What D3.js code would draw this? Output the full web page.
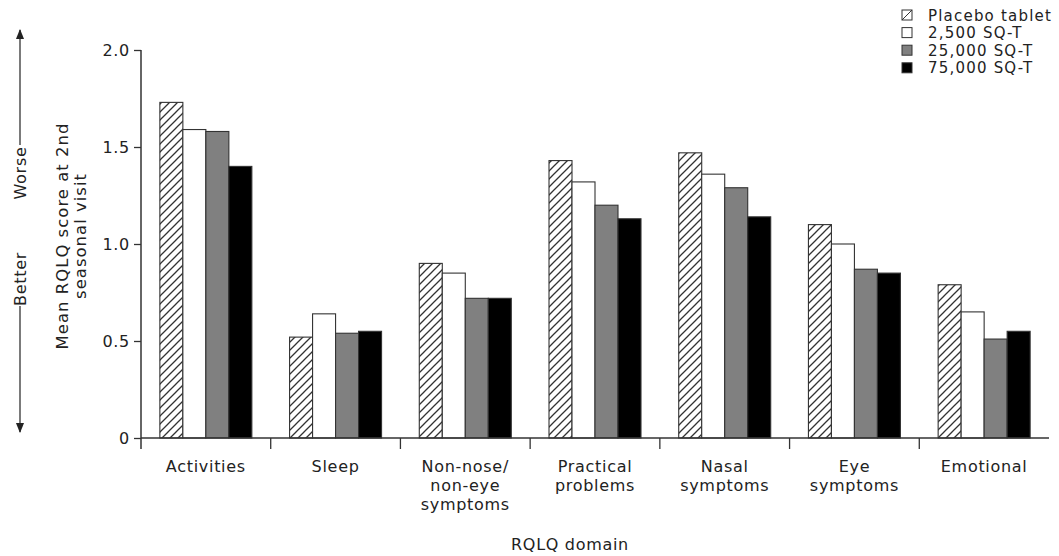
<!DOCTYPE html>
<html><head><meta charset="utf-8">
<script src="https://cdn.jsdelivr.net/npm/d3@7"></script>
<style>body{margin:0;background:#fff}svg{display:block}text{font-family:"DejaVu Sans",sans-serif;fill:#222;letter-spacing:0.7px}</style>
</head><body>
<svg id="c" width="1059" height="556"></svg>
<script>
const categories = [["Activities"],["Sleep"],["Non-nose/","non-eye","symptoms"],["Practical","problems"],["Nasal","symptoms"],["Eye","symptoms"],["Emotional"]];
const seriesNames = ["Placebo tablet","2,500 SQ-T","25,000 SQ-T","75,000 SQ-T"];
const placebo = [1.73,0.52,0.90,1.43,1.47,1.10,0.79];
const sq2500  = [1.59,0.64,0.85,1.32,1.36,1.00,0.65];
const sq25000 = [1.58,0.54,0.72,1.20,1.29,0.87,0.51];
const sq75000 = [1.40,0.55,0.72,1.13,1.14,0.85,0.55];
const yTicks = [0,0.5,1.0,1.5,2.0];
const yTickLabels = ["0","0.5","1.0","1.5","2.0"];

const series = [placebo,sq2500,sq25000,sq75000];
const fills = ["url(#hatch)","#ffffff","#808080","#000000"];
const svg = d3.select("#c");
const L=141, R=1049, T=50, B=438;
const FS = "16px";

const defs = svg.append("defs");
const pat = defs.append("pattern").attr("id","hatch").attr("patternUnits","userSpaceOnUse")
  .attr("width",8).attr("height",8);
pat.append("rect").attr("width",8).attr("height",8).attr("fill","#fff");
pat.append("path").attr("d","M-2,2 L2,-2 M0,8 L8,0 M6,10 L10,6")
  .attr("stroke","#333").attr("stroke-width",1.3);

const x0 = d3.scaleBand().domain(d3.range(categories.length)).range([L,R]).padding(0);
const x1 = d3.scaleBand().domain(d3.range(4)).range([0,x0.bandwidth()]).paddingInner(0).paddingOuter(0.82);
const y = d3.scaleLinear().domain([0,2]).range([B,T]);

// bars
const g = svg.append("g");
categories.forEach((c,i)=>{
  series.forEach((s,j)=>{
    g.append("rect").attr("x",x0(i)+x1(j)).attr("width",x1.bandwidth())
      .attr("y",y(s[i])).attr("height",B-y(s[i]))
      .attr("fill",fills[j]).attr("stroke","#333").attr("stroke-width",1.1);
  });
});

// y axis
const yAxis = d3.axisLeft(y).tickValues(yTicks).tickFormat((d,i)=>yTickLabels[i]).tickSize(7).tickPadding(4);
const ya = svg.append("g").attr("transform",`translate(${L},0)`).call(yAxis);
ya.select(".domain").remove();
ya.selectAll("line").attr("stroke","#333").attr("stroke-width",1.3);
ya.selectAll("text").style("font-size",FS).style("font-family","'DejaVu Sans',sans-serif").attr("fill","#222");
svg.append("line").attr("x1",L).attr("x2",L).attr("y1",T).attr("y2",B+11).attr("stroke","#333").attr("stroke-width",1.5);

// x axis
svg.append("line").attr("x1",L).attr("x2",R).attr("y1",B).attr("y2",B).attr("stroke","#333").attr("stroke-width",1.5);
d3.range(1,categories.length).forEach(i=>{
  svg.append("line").attr("x1",x0(i)).attr("x2",x0(i)).attr("y1",B).attr("y2",B+11).attr("stroke","#333").attr("stroke-width",1.3);
});
categories.forEach((c,i)=>{
  const t = svg.append("text").attr("text-anchor","middle").style("font-size",FS)
    .attr("x",x0(i)+x0.bandwidth()/2).attr("y",472);
  c.forEach((ln,k)=>t.append("tspan").attr("x",x0(i)+x0.bandwidth()/2).attr("dy",k?19:0).text(ln));
});
svg.append("text").attr("text-anchor","middle").style("font-size",FS).attr("x",570).attr("y",550).text("RQLQ domain");

// y title
const yt = svg.append("text").attr("text-anchor","middle").style("font-size","16.5px").style("letter-spacing","1px")
  .attr("transform","translate(68,236) rotate(-90)");
yt.append("tspan").attr("x",0).attr("y",0).text("Mean RQLQ score at 2nd");
yt.append("tspan").attr("x",0).attr("y",18).text("seasonal visit");

// worse/better arrows
const ax = 20;
defs.append("marker").attr("id","arr").attr("viewBox","0 0 10 10").attr("refX",9).attr("refY",5)
  .attr("markerWidth",8).attr("markerHeight",8).attr("orient","auto")
  .append("path").attr("d","M0,1 L10,5 L0,9 Z").attr("fill","#222");
svg.append("line").attr("x1",ax).attr("x2",ax).attr("y1",145).attr("y2",30).attr("stroke","#333").attr("stroke-width",1.3).attr("marker-end","url(#arr)");
svg.append("line").attr("x1",ax).attr("x2",ax).attr("y1",306).attr("y2",432).attr("stroke","#333").attr("stroke-width",1.3).attr("marker-end","url(#arr)");
svg.append("text").attr("text-anchor","middle").style("font-size",FS).attr("transform",`translate(${ax+6},173) rotate(-90)`).text("Worse");
svg.append("text").attr("text-anchor","middle").style("font-size",FS).attr("transform",`translate(${ax+6},279) rotate(-90)`).text("Better");

// legend
const lg = svg.append("g");
const ROW = 17.6;
seriesNames.forEach((n,j)=>{
  const yy = 15 + j*ROW;
  lg.append("rect").attr("x",902).attr("y",yy-5).attr("width",10).attr("height",10)
    .attr("fill",j===0?"#fff":fills[j]).attr("stroke","#333").attr("stroke-width",1);
  if(j===0) lg.append("line").attr("x1",902).attr("y1",yy+5).attr("x2",912).attr("y2",yy-5).attr("stroke","#333").attr("stroke-width",1);
  lg.append("text").attr("x",928).attr("y",yy+5.5)
    .style("font-size","15px").style("letter-spacing","1.2px").text(n);
});
</script>
</body></html>
